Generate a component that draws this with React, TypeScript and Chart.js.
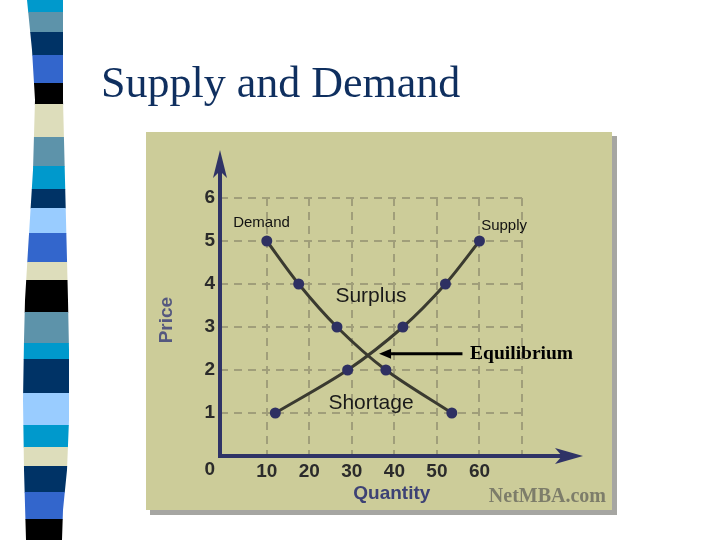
import { useEffect, useRef } from "react";
import { Chart, registerables } from "chart.js";

Chart.register(...registerables);

// ---- data ----
const demandQty = [10, 17.5, 26.5, 38, 53.5];
const demandPrice = [5, 4, 3, 2, 1];
const supplyQty = [12, 29, 42, 52, 60];
const supplyPrice = [1, 2, 3, 4, 5];
const xTickValues = [10, 20, 30, 40, 50, 60, 70];
const xTickLabels = ["10", "20", "30", "40", "50", "60", ""];
const yTickValues = [1, 2, 3, 4, 5, 6];
const yTickLabels = ["1", "2", "3", "4", "5", "6"];
const equilibriumQty = 34;
const equilibriumPrice = 2.38;

const SANS = '"Liberation Sans", Arial, sans-serif';
const SERIF = '"Liberation Serif", "Times New Roman", serif';
const AXIS = "#2f3366";

const stripeColors: Record<string, string> = {
  cyan: "#0099cc",
  steel: "#5d93aa",
  navy: "#003366",
  royal: "#3366cc",
  black: "#000000",
  beige: "#ddddbb",
  light: "#99ccff",
};
const stripeOrder = [
  "cyan", "steel", "navy", "royal", "black", "beige", "steel", "cyan", "navy", "light", "royal",
  "beige", "black", "steel", "cyan", "navy", "light", "cyan", "beige", "navy", "royal", "black",
];
const stripeBreaks = [0, 12, 32, 55, 83, 104, 137, 166, 189, 208, 233, 262, 280, 312, 343, 359, 393, 425, 447, 466, 492, 519, 540];

const decor = {
  id: "decor",
  beforeDraw(chart: any) {
    const ctx: CanvasRenderingContext2D = chart.ctx;
    ctx.save();
    ctx.fillStyle = "#ffffff";
    ctx.fillRect(0, 0, chart.width, chart.height);
    // decorative stripe band
    const leftEdge = [[0, 27], [50, 32], [100, 35], [170, 33], [250, 28], [300, 25], [340, 24], [400, 23], [470, 24], [540, 26]];
    const rightEdge = [[0, 63], [100, 63], [180, 65], [260, 67], [300, 68], [350, 69], [420, 69], [470, 67], [510, 63], [540, 62]];
    ctx.beginPath();
    leftEdge.forEach(([yy, xx], i) => (i ? ctx.lineTo(xx, yy) : ctx.moveTo(xx, yy)));
    [...rightEdge].reverse().forEach(([yy, xx]) => ctx.lineTo(xx, yy));
    ctx.closePath();
    ctx.clip();
    stripeOrder.forEach((c, i) => {
      ctx.fillStyle = stripeColors[c];
      ctx.fillRect(0, stripeBreaks[i], 90, stripeBreaks[i + 1] - stripeBreaks[i] + 0.5);
    });
    ctx.restore();

    // title
    ctx.save();
    ctx.fillStyle = "#0f2f5f";
    ctx.font = `44px ${SERIF}`;
    ctx.textBaseline = "alphabetic";
    ctx.textAlign = "left";
    ctx.fillText("Supply and Demand", 101, 97);
    // panel
    ctx.fillStyle = "#a6a6a2";
    ctx.fillRect(150, 136, 467, 379);
    ctx.fillStyle = "#cccc99";
    ctx.fillRect(146, 132, 466, 378);
    ctx.restore();
  },
  afterDraw(chart: any) {
    const ctx: CanvasRenderingContext2D = chart.ctx;
    const { left, right, top, bottom } = chart.chartArea;
    const x = chart.scales.x;
    const y = chart.scales.y;
    ctx.save();
    // axes with arrows
    ctx.strokeStyle = AXIS;
    ctx.fillStyle = AXIS;
    ctx.lineWidth = 4;
    ctx.beginPath();
    ctx.moveTo(left, bottom + 2);
    ctx.lineTo(left, top - 40);
    ctx.stroke();
    ctx.beginPath();
    ctx.moveTo(left - 2, bottom);
    ctx.lineTo(right + 50, bottom);
    ctx.stroke();
    ctx.beginPath();
    ctx.moveTo(left, top - 48);
    ctx.lineTo(left + 7, top - 20);
    ctx.lineTo(left, top - 27);
    ctx.lineTo(left - 7, top - 20);
    ctx.closePath();
    ctx.fill();
    ctx.beginPath();
    ctx.moveTo(right + 61, bottom);
    ctx.lineTo(right + 33, bottom - 8);
    ctx.lineTo(right + 40, bottom);
    ctx.lineTo(right + 33, bottom + 8);
    ctx.closePath();
    ctx.fill();

    // curve labels
    ctx.fillStyle = "#111111";
    ctx.textBaseline = "middle";
    ctx.textAlign = "left";
    ctx.font = `15px ${SANS}`;
    ctx.fillText("Demand", x.getPixelForValue(2.1), y.getPixelForValue(5.42));
    ctx.fillText("Supply", x.getPixelForValue(60.4), y.getPixelForValue(5.35));

    ctx.textAlign = "center";
    ctx.font = `21px ${SANS}`;
    ctx.fillStyle = "#1a1a1a";
    ctx.fillText("Surplus", x.getPixelForValue(34.5), y.getPixelForValue(3.72));
    ctx.fillText("Shortage", x.getPixelForValue(34.5), y.getPixelForValue(1.23));

    // equilibrium arrow
    const ey = y.getPixelForValue(equilibriumPrice);
    const tipX = x.getPixelForValue(equilibriumQty + 2.4);
    const tailX = x.getPixelForValue(equilibriumQty + 22);
    ctx.strokeStyle = "#000000";
    ctx.fillStyle = "#000000";
    ctx.lineWidth = 3;
    ctx.beginPath();
    ctx.moveTo(tailX, ey);
    ctx.lineTo(tipX + 8, ey);
    ctx.stroke();
    ctx.beginPath();
    ctx.moveTo(tipX, ey);
    ctx.lineTo(tipX + 12, ey - 5);
    ctx.lineTo(tipX + 12, ey + 5);
    ctx.closePath();
    ctx.fill();
    ctx.textAlign = "left";
    ctx.font = `bold 19.5px ${SERIF}`;
    ctx.fillText("Equilibrium", x.getPixelForValue(equilibriumQty + 23.8), ey);

    // origin label
    ctx.fillStyle = "#2b2b2b";
    ctx.font = `bold 19px ${SANS}`;
    ctx.textAlign = "right";
    ctx.fillText("0", left - 5, bottom + 14);

    // axis titles
    ctx.fillStyle = "#3d4275";
    ctx.textAlign = "center";
    ctx.font = `bold 19px ${SANS}`;
    ctx.fillText("Quantity", x.getPixelForValue(39.4), bottom + 38);
    ctx.save();
    ctx.translate(left - 53, y.getPixelForValue(3.16));
    ctx.rotate(-Math.PI / 2);
    ctx.fillStyle = "#54587f";
    ctx.fillText("Price", 0, 0);
    ctx.restore();

    // credit
    ctx.fillStyle = "#7d7d6a";
    ctx.textAlign = "right";
    ctx.font = `bold 20px ${SERIF}`;
    ctx.fillText("NetMBA.com", 606, 497);
    ctx.restore();
  },
};

export default function App() {
  const ref = useRef<HTMLCanvasElement | null>(null);
  useEffect(() => {
    if (!ref.current) return;
    const chart = new Chart(ref.current, {
      type: "scatter",
      data: {
        datasets: [
          {
            label: "Demand",
            data: demandQty.map((q, i) => ({ x: q, y: demandPrice[i] })),
            showLine: true,
            borderColor: "#3a3a30",
            borderWidth: 3,
            tension: 0.3,
            pointRadius: 5.5,
            pointBackgroundColor: "#2e3062",
            pointBorderWidth: 0,
          },
          {
            label: "Supply",
            data: supplyQty.map((q, i) => ({ x: q, y: supplyPrice[i] })),
            showLine: true,
            borderColor: "#3a3a30",
            borderWidth: 3,
            tension: 0.3,
            pointRadius: 5.5,
            pointBackgroundColor: "#2e3062",
            pointBorderWidth: 0,
          },
        ],
      },
      options: {
        animation: false,
        responsive: false,
        layout: { padding: { left: 160, top: 198, right: 198, bottom: 24 } },
        plugins: { legend: { display: false }, title: { display: false }, tooltip: { enabled: false } },
        scales: {
          x: {
            type: "linear",
            min: -1,
            max: 70,
            afterFit: (s: any) => {
              s.height = 60;
            },
            afterBuildTicks: (s: any) => {
              s.ticks = xTickValues.map((v) => ({ value: v }));
            },
            ticks: {
              autoSkip: false,
              maxRotation: 0,
              padding: 4,
              color: "#2b2b2b",
              font: { family: SANS, size: 19, weight: "bold" },
              callback: (v: any) => xTickLabels[xTickValues.indexOf(Number(v))] ?? "",
            },
            grid: { color: "#a09e7a", lineWidth: 2, drawTicks: false },
            border: { display: false, dash: [8, 6] },
          },
          y: {
            type: "linear",
            min: 0,
            max: 6,
            afterFit: (s: any) => {
              s.width = 60;
            },
            afterBuildTicks: (s: any) => {
              s.ticks = yTickValues.map((v) => ({ value: v }));
            },
            ticks: {
              autoSkip: false,
              padding: 5,
              color: "#2b2b2b",
              font: { family: SANS, size: 19, weight: "bold" },
              callback: (v: any) => yTickLabels[yTickValues.indexOf(Number(v))] ?? "",
            },
            grid: { color: "#a09e7a", lineWidth: 2, drawTicks: false },
            border: { display: false, dash: [8, 6] },
          },
        },
      },
      plugins: [decor],
    });
    return () => chart.destroy();
  }, []);
  return (
    <div style={{ position: "absolute", left: 0, top: 0, width: 720, height: 540 }}>
      <canvas ref={ref} width={720} height={540} />
    </div>
  );
}
